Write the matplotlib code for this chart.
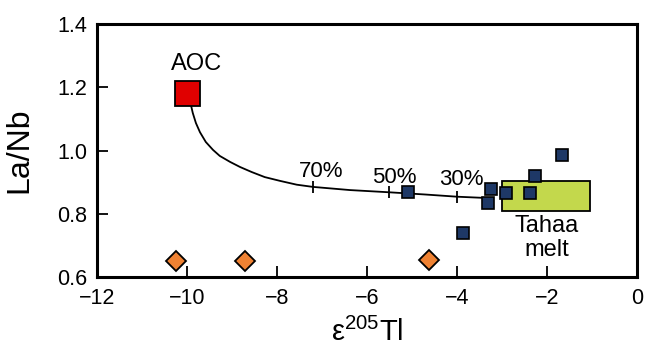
import matplotlib

matplotlib.use("Agg")
import matplotlib.pyplot as plt
from matplotlib.patches import Rectangle

plt.rcParams["font.family"] = ["Liberation Sans", "DejaVu Sans"]

# AOC end-member
aoc_x, aoc_y = -10.0, 1.183

# Mixing curve
curve_x = [-9.92, -9.87, -9.80, -9.71, -9.58, -9.42, -9.27, -9.04, -8.82, -8.56,
           -8.27, -7.93, -7.56, -7.20, -6.38, -5.51, -4.71, -4.00, -3.20]
curve_y = [1.150, 1.119, 1.087, 1.058, 1.027, 1.002, 0.983, 0.964, 0.948, 0.932,
           0.916, 0.904, 0.892, 0.885, 0.875, 0.868, 0.861, 0.854, 0.849]

# Mixing-percentage marks on the curve
mark_x = [-7.20, -5.51, -4.00]
mark_y = [0.885, 0.868, 0.854]
mark_labels = ["70%", "50%", "30%"]
label_x = [-7.02, -5.40, -3.91]
label_y = [0.915, 0.897, 0.891]

# Samples
blue_x = [-1.67, -2.27, -3.24, -2.90, -2.38, -3.30, -5.08, -3.87]
blue_y = [0.985, 0.919, 0.877, 0.866, 0.866, 0.833, 0.869, 0.738]

orange_x = [-10.25, -8.72, -4.62]
orange_y = [0.65, 0.65, 0.653]

# Tahaa melt field
tahaa_x = (-3.0, -1.05)
tahaa_y = (0.808, 0.905)

fig = plt.figure(figsize=(6.46, 3.54), dpi=100)
ax = fig.add_axes([0.150, 0.2175, 0.836, 0.7145])

ax.add_patch(Rectangle((tahaa_x[0], tahaa_y[0]), tahaa_x[1] - tahaa_x[0], tahaa_y[1] - tahaa_y[0],
                       facecolor="#c3d84c", edgecolor="black", linewidth=1.3, zorder=1))
ax.text(-2.0, 0.797, "Tahaa\nmelt", ha="center", va="top", fontsize=17, linespacing=1.15)

ax.plot(curve_x, curve_y, color="black", linewidth=1.3, zorder=2)
ax.plot(mark_x, mark_y, linestyle="none", marker="|", markersize=9,
        markeredgewidth=1.3, color="black", zorder=2)
for x, y, lab in zip(label_x, label_y, mark_labels):
    ax.text(x, y, lab, ha="center", va="baseline", fontsize=16)

ax.plot(aoc_x, aoc_y, marker="s", markersize=18, markerfacecolor="#e00000",
        markeredgecolor="black", markeredgewidth=1.3, linestyle="none", zorder=3)
ax.text(-9.78, 1.254, "AOC", ha="center", va="baseline", fontsize=17)

ax.plot(blue_x, blue_y, marker="s", markersize=9, markerfacecolor="#1e3866",
        markeredgecolor="black", markeredgewidth=1.2, linestyle="none", zorder=3)
ax.plot(orange_x, orange_y, marker="D", markersize=10.5, markerfacecolor="#ef8233",
        markeredgecolor="black", markeredgewidth=1.3, linestyle="none", zorder=3)

ax.set_xlim(-12, 0)
ax.set_ylim(0.6, 1.4)
ax.set_xticks([-12, -10, -8, -6, -4, -2, 0])
ax.set_yticks([0.6, 0.8, 1.0, 1.2, 1.4])
ax.set_yticklabels(["0.6", "0.8", "1.0", "1.2", "1.4"])
ax.tick_params(direction="in", length=8, width=1.3, labelsize=15.5)
ax.tick_params(axis="x", pad=8)
ax.tick_params(axis="y", pad=7)
for s in ax.spines.values():
    s.set_linewidth(2.2)

ax.set_xlabel(r"$\mathregular{\varepsilon^{205}}$Tl", fontsize=21, labelpad=6)
ax.set_ylabel("La/Nb", fontsize=23, labelpad=16)

fig.savefig("out.png", dpi=100)
